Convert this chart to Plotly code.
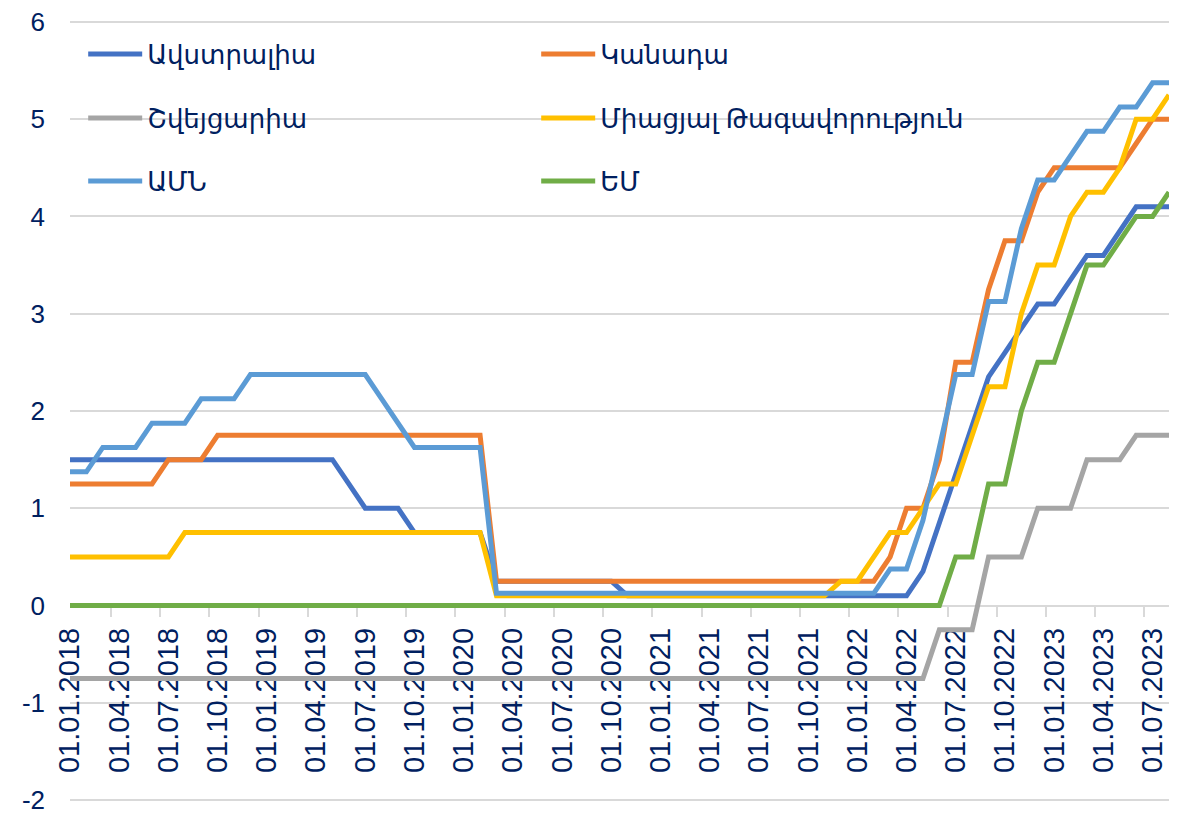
import plotly.graph_objects as go

# Month categories (start-of-month labels), Jan 2018 .. Aug 2023
years = [2018, 2019, 2020, 2021, 2022, 2023]
months = []
for yr in years:
    for m in range(1, 13):
        if yr == 2023 and m > 8:
            break
        months.append("01.%02d.%d" % (m, yr))

y_tickvals = [-2, -1, 0, 1, 2, 3, 4, 5, 6]
y_ticktext = ["-2", "-1", "0", "1", "2", "3", "4", "5", "6"]

australia = [1.5, 1.5, 1.5, 1.5, 1.5, 1.5, 1.5, 1.5, 1.5, 1.5, 1.5, 1.5,
             1.5, 1.5, 1.5, 1.5, 1.5, 1.25, 1.0, 1.0, 1.0, 0.75, 0.75, 0.75,
             0.75, 0.75, 0.25, 0.25, 0.25, 0.25, 0.25, 0.25, 0.25, 0.25, 0.1, 0.1,
             0.1, 0.1, 0.1, 0.1, 0.1, 0.1, 0.1, 0.1, 0.1, 0.1, 0.1, 0.1,
             0.1, 0.1, 0.1, 0.1, 0.35, 0.85, 1.35, 1.85, 2.35, 2.6, 2.85, 3.1,
             3.1, 3.35, 3.6, 3.6, 3.85, 4.1, 4.1, 4.1]
canada = [1.25, 1.25, 1.25, 1.25, 1.25, 1.25, 1.5, 1.5, 1.5, 1.75, 1.75, 1.75,
          1.75, 1.75, 1.75, 1.75, 1.75, 1.75, 1.75, 1.75, 1.75, 1.75, 1.75, 1.75,
          1.75, 1.75, 0.25, 0.25, 0.25, 0.25, 0.25, 0.25, 0.25, 0.25, 0.25, 0.25,
          0.25, 0.25, 0.25, 0.25, 0.25, 0.25, 0.25, 0.25, 0.25, 0.25, 0.25, 0.25,
          0.25, 0.25, 0.5, 1.0, 1.0, 1.5, 2.5, 2.5, 3.25, 3.75, 3.75, 4.25,
          4.5, 4.5, 4.5, 4.5, 4.5, 4.75, 5.0, 5.0]
switzerland = [-0.75, -0.75, -0.75, -0.75, -0.75, -0.75, -0.75, -0.75, -0.75, -0.75, -0.75, -0.75,
               -0.75, -0.75, -0.75, -0.75, -0.75, -0.75, -0.75, -0.75, -0.75, -0.75, -0.75, -0.75,
               -0.75, -0.75, -0.75, -0.75, -0.75, -0.75, -0.75, -0.75, -0.75, -0.75, -0.75, -0.75,
               -0.75, -0.75, -0.75, -0.75, -0.75, -0.75, -0.75, -0.75, -0.75, -0.75, -0.75, -0.75,
               -0.75, -0.75, -0.75, -0.75, -0.75, -0.25, -0.25, -0.25, 0.5, 0.5, 0.5, 1.0,
               1.0, 1.0, 1.5, 1.5, 1.5, 1.75, 1.75, 1.75]
uk = [0.5, 0.5, 0.5, 0.5, 0.5, 0.5, 0.5, 0.75, 0.75, 0.75, 0.75, 0.75,
      0.75, 0.75, 0.75, 0.75, 0.75, 0.75, 0.75, 0.75, 0.75, 0.75, 0.75, 0.75,
      0.75, 0.75, 0.1, 0.1, 0.1, 0.1, 0.1, 0.1, 0.1, 0.1, 0.1, 0.1,
      0.1, 0.1, 0.1, 0.1, 0.1, 0.1, 0.1, 0.1, 0.1, 0.1, 0.1, 0.25,
      0.25, 0.5, 0.75, 0.75, 1.0, 1.25, 1.25, 1.75, 2.25, 2.25, 3.0, 3.5,
      3.5, 4.0, 4.25, 4.25, 4.5, 5.0, 5.0, 5.25]
usa = [1.375, 1.375, 1.625, 1.625, 1.625, 1.875, 1.875, 1.875, 2.125, 2.125, 2.125, 2.375,
       2.375, 2.375, 2.375, 2.375, 2.375, 2.375, 2.375, 2.125, 1.875, 1.625, 1.625, 1.625,
       1.625, 1.625, 0.125, 0.125, 0.125, 0.125, 0.125, 0.125, 0.125, 0.125, 0.125, 0.125,
       0.125, 0.125, 0.125, 0.125, 0.125, 0.125, 0.125, 0.125, 0.125, 0.125, 0.125, 0.125,
       0.125, 0.125, 0.375, 0.375, 0.875, 1.625, 2.375, 2.375, 3.125, 3.125, 3.875, 4.375,
       4.375, 4.625, 4.875, 4.875, 5.125, 5.125, 5.375, 5.375]
eu = [0, 0, 0, 0, 0, 0, 0, 0, 0, 0, 0, 0,
      0, 0, 0, 0, 0, 0, 0, 0, 0, 0, 0, 0,
      0, 0, 0, 0, 0, 0, 0, 0, 0, 0, 0, 0,
      0, 0, 0, 0, 0, 0, 0, 0, 0, 0, 0, 0,
      0, 0, 0, 0, 0, 0, 0.5, 0.5, 1.25, 1.25, 2.0, 2.5,
      2.5, 3.0, 3.5, 3.5, 3.75, 4.0, 4.0, 4.25]

names = ["Ավստրալիա", "Կանադա", "Շվեյցարիա", "Միացյալ Թագավորություն", "ԱՄՆ", "ԵՄ"]
series = [australia, canada, switzerland, uk, usa, eu]
colors = ["#4472C4", "#ED7D31", "#A5A5A5", "#FFC000", "#5B9BD5", "#70AD47"]
legend_ids = ["legend", "legend", "legend2", "legend2", "legend3", "legend3"]

TEXT = "#002060"
GRID = "#D9D9D9"

fig = go.Figure()
for name, vals, col, lg in zip(names, series, colors, legend_ids):
    fig.add_trace(go.Scatter(x=months, y=vals, mode="lines", name=name,
                             line=dict(color=col, width=5), legend=lg))

# page has an 8px body margin; figure sized/margined to compensate
W, H = 1170, 807
ml, mr, mt, mb = 62, 9, 12, 13
plot_h = H - mt - mb
Y_RANGE = [-2.02, 6.02]

def ly(py_page):
    py = py_page - 8
    return (H - mb - py) / plot_h

# x axis sits at value 0
x_pos = (0 - Y_RANGE[0]) / (Y_RANGE[1] - Y_RANGE[0])

leg_common = dict(orientation="h", xanchor="left", yanchor="middle",
                  bgcolor="rgba(0,0,0,0)", entrywidth=384, entrywidthmode="pixels",
                  itemwidth=54,
                  font=dict(family="Arial, 'DejaVu Sans', sans-serif", size=26, color=TEXT),
                  itemclick=False, itemdoubleclick=False)

fig.update_layout(
    width=W, height=H,
    margin=dict(l=ml, r=mr, t=mt, b=mb, autoexpand=False),
    paper_bgcolor="white", plot_bgcolor="white",
    showlegend=True,
    legend=dict(x=0.012, y=ly(54), **leg_common),
    legend2=dict(x=0.012, y=ly(118), **leg_common),
    legend3=dict(x=0.012, y=ly(181), **leg_common),
    xaxis=dict(type="category", anchor="free", position=x_pos, automargin=False,
               tickmode="linear", tick0=0, dtick=3, tickson="boundaries",
               ticks="outside", ticklen=11, tickwidth=1.5, tickcolor=GRID,
               showline=True, linecolor=GRID, linewidth=1.5, layer="below traces",
               showgrid=False, zeroline=False, tickangle=-90,
               ticklabelstandoff=10,
               tickfont=dict(family="Arial, 'Liberation Sans', sans-serif",
                             size=29, color=TEXT)),
    yaxis=dict(range=Y_RANGE, tickmode="array", tickvals=y_tickvals, ticktext=y_ticktext,
               showgrid=True, gridcolor=GRID,
               gridwidth=1.5, zeroline=False, showline=False, ticks="",
               automargin=False, ticklabelstandoff=24, ticklabeloverflow="allow",
               tickfont=dict(family="Arial, 'Liberation Sans', sans-serif", size=26, color=TEXT)),
)

fig.write_html("out.html")
